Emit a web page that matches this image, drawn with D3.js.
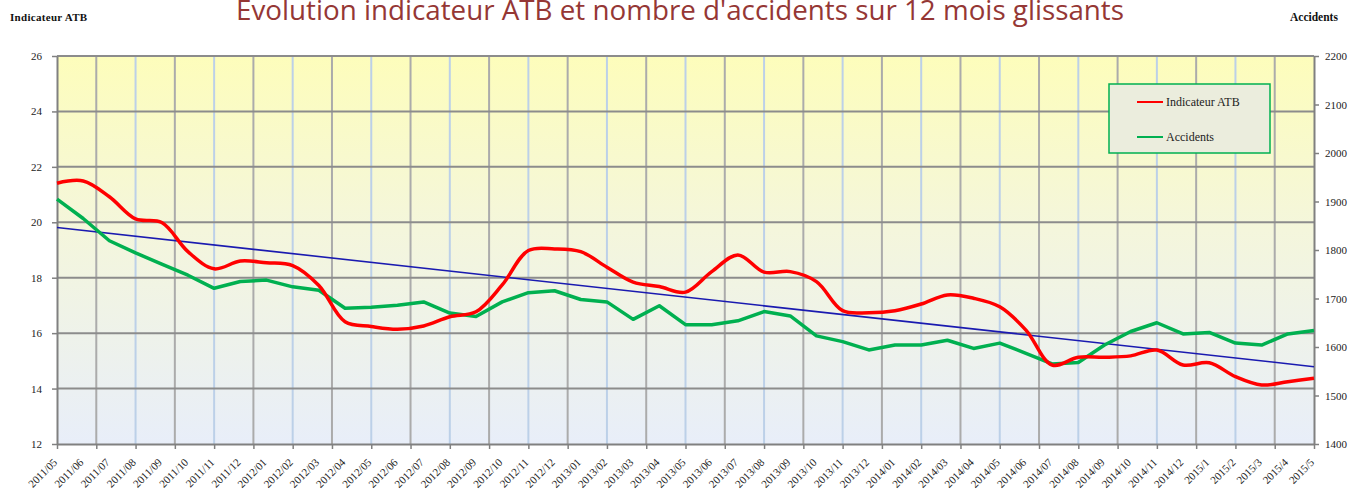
<!DOCTYPE html>
<html>
<head>
<meta charset="utf-8">
<script src="https://cdn.jsdelivr.net/npm/d3@7"></script>
<style>
  body { margin: 0; background: #fff; }
  svg { display: block; }
</style>
</head>
<body>
<svg width="1349" height="495"></svg>
<script>
var months = ['2011/05','2011/06','2011/07','2011/08','2011/09','2011/10','2011/11','2011/12',
  '2012/01','2012/02','2012/03','2012/04','2012/05','2012/06','2012/07','2012/08','2012/09','2012/10','2012/11','2012/12',
  '2013/01','2013/02','2013/03','2013/04','2013/05','2013/06','2013/07','2013/08','2013/09','2013/10','2013/11','2013/12',
  '2014/01','2014/02','2014/03','2014/04','2014/05','2014/06','2014/07','2014/08','2014/09','2014/10','2014/11','2014/12',
  '2015/1','2015/2','2015/3','2015/4','2015/5'];

// indicateur ATB (left axis)
var atb = [21.41, 21.49, 20.92, 20.12, 19.99, 18.94, 18.32, 18.60, 18.54, 18.44, 17.72, 16.41, 16.24,
  16.14, 16.26, 16.59, 16.77, 17.74, 18.98, 19.04, 18.94, 18.38, 17.84, 17.68, 17.48, 18.22, 18.82,
  18.20, 18.22, 17.86, 16.81, 16.74, 16.81, 17.05, 17.38, 17.26, 16.95, 16.11, 14.85, 15.13, 15.13,
  15.18, 15.39, 14.85, 14.93, 14.43, 14.13, 14.25, 14.37];

// accidents (right axis)
var accidents = [1905, 1865, 1819, 1794, 1771, 1748, 1721, 1735, 1738, 1724, 1717, 1680, 1682,
  1686, 1693, 1670, 1663, 1693, 1712, 1716, 1698, 1693, 1657, 1685, 1646, 1646, 1654, 1673, 1664,
  1623, 1611, 1594, 1604, 1604, 1614, 1597, 1608, 1587, 1565, 1568, 1604, 1632, 1650, 1627, 1630,
  1608, 1604, 1627, 1634];

// linear trend of ATB, first and last month
var trend = [19.81, 14.79];

var leftTicks = [12, 14, 16, 18, 20, 22, 24, 26];
var rightTicks = [1400, 1500, 1600, 1700, 1800, 1900, 2000, 2100, 2200];
var gridCount = 32;

var svg = d3.select('svg');
var pLeft = 57, pRight = 1314, pTop = 56, pBottom = 444;

var x = d3.scalePoint().domain(months).range([pLeft, pRight]);
var xGrid = d3.scaleLinear().domain([0, gridCount]).range([pLeft, pRight]);
var yL = d3.scaleLinear().domain([12, 26]).range([pBottom, pTop]);
var yR = d3.scaleLinear().domain([1400, 2200]).range([pBottom, pTop]);

// background gradient
var grad = svg.append('defs').append('linearGradient')
  .attr('id', 'bg').attr('x1', 0).attr('y1', 0).attr('x2', 0).attr('y2', 1);
grad.append('stop').attr('offset', '0%').attr('stop-color', '#fdfdbb');
grad.append('stop').attr('offset', '45%').attr('stop-color', '#f4f6dc');
grad.append('stop').attr('offset', '100%').attr('stop-color', '#e8eef9');

svg.append('rect')
  .attr('x', pLeft).attr('y', pTop)
  .attr('width', pRight - pLeft).attr('height', pBottom - pTop)
  .attr('fill', 'url(#bg)');

// vertical grid, gray and light blue in turn
svg.append('g').selectAll('line')
  .data(d3.range(1, gridCount))
  .enter().append('line')
  .attr('x1', function(d){ return xGrid(d); })
  .attr('x2', function(d){ return xGrid(d); })
  .attr('y1', pTop).attr('y2', pBottom)
  .attr('stroke', function(d){ return d % 2 ? '#ababab' : '#bcd0e8'; })
  .attr('stroke-width', 2);

// horizontal grid
svg.append('g').selectAll('line')
  .data(leftTicks.slice(1))
  .enter().append('line')
  .attr('x1', pLeft).attr('x2', pRight)
  .attr('y1', function(d){ return yL(d); })
  .attr('y2', function(d){ return yL(d); })
  .attr('stroke', '#8c8c8c')
  .attr('stroke-width', 2);

// axes
var axL = svg.append('g').attr('transform', 'translate(' + pLeft + ',0)')
  .call(d3.axisLeft(yL).tickValues(leftTicks).tickSize(5).tickPadding(10).tickSizeOuter(0));
var axR = svg.append('g').attr('transform', 'translate(' + pRight + ',0)')
  .call(d3.axisRight(yR).tickValues(rightTicks).tickFormat(d3.format('d')).tickSize(5).tickPadding(6).tickSizeOuter(0));
var axB = svg.append('g').attr('transform', 'translate(0,' + pBottom + ')')
  .call(d3.axisBottom(xGrid).tickValues(d3.range(0, gridCount + 1)).tickSize(5).tickFormat('').tickSizeOuter(0));

[axL, axR, axB].forEach(function(ax){
  ax.select('.domain').attr('stroke', '#808080').attr('stroke-width', 2);
  ax.selectAll('.tick line').attr('stroke', '#808080').attr('stroke-width', 1.5);
  ax.selectAll('text')
    .attr('font-family', '"Liberation Serif", serif')
    .attr('font-size', 11)
    .attr('fill', '#222');
});

// month labels
svg.append('g').selectAll('text')
  .data(months)
  .enter().append('text')
  .attr('transform', function(d){ return 'translate(' + (x(d) + 1) + ',' + (pBottom + 19) + ') rotate(-45)'; })
  .attr('text-anchor', 'end')
  .attr('font-family', '"Liberation Serif", serif')
  .attr('font-size', 11)
  .attr('fill', '#222')
  .text(function(d){ return d; });

// trend line
svg.append('line')
  .attr('x1', x(months[0])).attr('y1', yL(trend[0]))
  .attr('x2', x(months[months.length - 1])).attr('y2', yL(trend[1]))
  .attr('stroke', '#1a1ab0')
  .attr('stroke-width', 1.6);

// accidents line
svg.append('path')
  .datum(accidents)
  .attr('fill', 'none')
  .attr('stroke', '#00b050')
  .attr('stroke-width', 3.5)
  .attr('stroke-linejoin', 'round')
  .attr('d', d3.line()
    .x(function(d, i){ return x(months[i]); })
    .y(function(d){ return yR(d); }));

// ATB line, smoothed
svg.append('path')
  .datum(atb)
  .attr('fill', 'none')
  .attr('stroke', '#ff0000')
  .attr('stroke-width', 3.5)
  .attr('d', d3.line()
    .curve(d3.curveCatmullRom.alpha(0.5))
    .x(function(d, i){ return x(months[i]); })
    .y(function(d){ return yL(d); }));

// title (top is clipped in the original too)
svg.append('text')
  .attr('x', 236).attr('y', 20)
  .attr('font-family', '"Open Sans", sans-serif')
  .attr('font-size', 27)
  .attr('fill', '#953735')
  .attr('textLength', 888)
  .attr('lengthAdjust', 'spacingAndGlyphs')
  .text("Evolution indicateur ATB et nombre d'accidents sur 12 mois glissants");

// axis titles
svg.append('text')
  .attr('x', 10).attr('y', 21)
  .attr('font-family', '"Liberation Serif", serif')
  .attr('font-size', 11).attr('font-weight', 'bold')
  .attr('letter-spacing', 0.3)
  .attr('fill', '#111')
  .text('Indicateur  ATB');
svg.append('text')
  .attr('x', 1290).attr('y', 21)
  .attr('font-family', '"Liberation Serif", serif')
  .attr('font-size', 11.5).attr('font-weight', 'bold')
  .attr('fill', '#111')
  .text('Accidents');

// legend
var legendItems = [
  { label: 'Indicateur ATB', color: '#ff0000' },
  { label: 'Accidents', color: '#00b050' }
];
var legend = svg.append('g').attr('transform', 'translate(1109,84)');
legend.append('rect')
  .attr('width', 161).attr('height', 69)
  .attr('fill', '#ebeddd')
  .attr('stroke', '#00b050')
  .attr('stroke-width', 1.5);
var item = legend.selectAll('g.item')
  .data(legendItems)
  .enter().append('g')
  .attr('class', 'item')
  .attr('transform', function(d, i){ return 'translate(0,' + (18 + i * 35) + ')'; });
item.append('line')
  .attr('x1', 28).attr('x2', 54)
  .attr('stroke', function(d){ return d.color; })
  .attr('stroke-width', 2);
item.append('text')
  .attr('x', 57).attr('y', 4)
  .attr('font-family', '"Liberation Serif", serif')
  .attr('font-size', 12)
  .attr('fill', '#222')
  .text(function(d){ return d.label; });
</script>
</body>
</html>
